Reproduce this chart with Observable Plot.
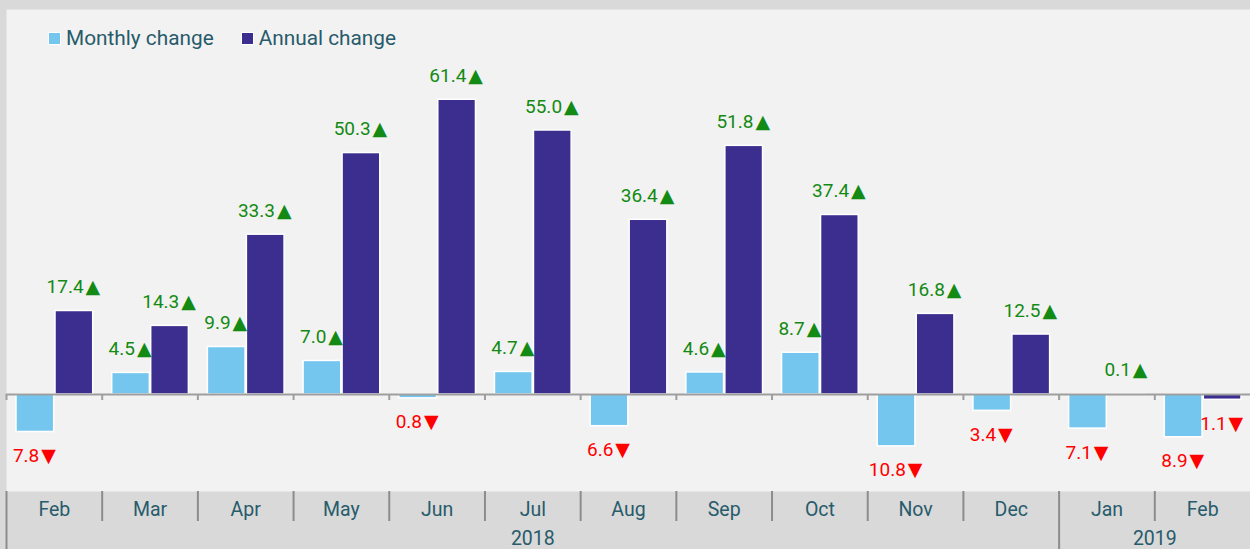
<!DOCTYPE html>
<html>
<head>
<meta charset="utf-8">
<script src="https://cdn.jsdelivr.net/npm/d3@7"></script>
<script src="https://cdn.jsdelivr.net/npm/@observablehq/plot@0.6"></script>
<style>
  html, body { margin: 0; padding: 0; background: #d9d9d9; }
  #wrap { position: relative; width: 1250px; height: 549px; overflow: hidden; font-family: Roboto, "Noto Sans", sans-serif; }
  #chart { position: absolute; left: 0; top: 0; }
  #legend { position: absolute; left: 48px; top: 26px; display: flex; align-items: center; font-size: 20.8px; color: #285b6b; }
  .sw { width: 11px; height: 11px; border: 1px solid #fff; margin-right: 5px; }
  .item { display: flex; align-items: center; margin-right: 27px; }
</style>
</head>
<body>
<div id="wrap">
  <div id="chart"></div>
  <div id="legend"></div>
</div>
<script>
// ---- data ----
const keys = ["2018-02","2018-03","2018-04","2018-05","2018-06","2018-07","2018-08","2018-09","2018-10","2018-11","2018-12","2019-01","2019-02"];
const monthLabels = ["Feb","Mar","Apr","May","Jun","Jul","Aug","Sep","Oct","Nov","Dec","Jan","Feb"];
const monthly = [-7.8, 4.5, 9.9, 7.0, -0.8, 4.7, -6.6, 4.6, 8.7, -10.8, -3.4, -7.1, -8.9];
const annual = [17.4, 14.3, 33.3, 50.3, 61.4, 55.0, 36.4, 51.8, 37.4, 16.8, 12.5, 0.1, -1.1];
const years = ["2018", "2019"];
const yearStarts = ["2018-02", "2019-01"];
const yearCenters = ["2018-07", "2019-02"];
const seriesNames = ["Monthly change", "Annual change"];
const seriesColors = ["#74c6ef", "#3b2e8e"];

// ---- layout ----
const W = 1250, H = 549;
const mL = 6, mR = 0, mT = 9, mB = 58;
const bw = (W - mL - mR) / keys.length;
const half = bw / 2;

const rows = keys.map((k, i) => ({key: k, label: monthLabels[i], monthly: monthly[i], annual: annual[i]}));

const up = "#138a13", down = "#ff0000";
const lblFont = 19;
const lblFamily = "Roboto, 'DejaVu Sans', sans-serif";
const axisColor = "#285b6b";
const gap = "\u200A";

// y domain chosen so that 0 sits at the reference's axis line
const yDomain = [-20.2, 80.2];
const yPerPx = (yDomain[1] - yDomain[0]) / (H - mT - mB);
const yBandTop = yDomain[0];
const yMonthSepEnd = yDomain[0] - 30 * yPerPx;
const yBandBottom = yDomain[0] - mB * yPerPx;
const yYearText = yDomain[0] - 47 * yPerPx;
const yTickEnd = -6 * yPerPx;

const plot = Plot.plot({
  width: W, height: H,
  marginLeft: mL, marginRight: mR, marginTop: mT, marginBottom: mB,
  style: {background: "transparent", fontFamily: "Roboto, 'Noto Sans', sans-serif"},
  x: {domain: keys, padding: 0, round: false, axis: null},
  y: {domain: yDomain, axis: null},
  marks: [
    Plot.frame({fill: "#f2f2f2", stroke: null}),
    Plot.barY(rows, {x: "key", y: "monthly", fill: seriesColors[0], stroke: "#fff", strokeWidth: 1.5, insetLeft: 10, insetRight: 48}),
    Plot.barY(rows, {x: "key", y: "annual", fill: seriesColors[1], stroke: "#fff", strokeWidth: 1.5, insetLeft: 49, insetRight: 9}),
    Plot.ruleY([0], {stroke: "#9e9e9e", strokeWidth: 2}),
    Plot.ruleX(keys, {x: d => d, y1: 0, y2: yTickEnd, dx: -half, stroke: "#9e9e9e", strokeWidth: 2}),
    // value labels
    Plot.text(rows.filter(d => d.monthly >= 0), {x: "key", y: "monthly", text: d => d.monthly.toFixed(1) + gap + "▲", dx: -20, dy: -24, fill: up, fontSize: lblFont, fontFamily: lblFamily}),
    Plot.text(rows.filter(d => d.monthly < 0), {x: "key", y: "monthly", text: d => Math.abs(d.monthly).toFixed(1) + gap + "▼", dx: -20, dy: 24, fill: down, fontSize: lblFont, fontFamily: lblFamily}),
    Plot.text(rows.filter(d => d.annual >= 0), {x: "key", y: "annual", text: d => d.annual.toFixed(1) + gap + "▲", dx: 19, dy: -24, fill: up, fontSize: lblFont, fontFamily: lblFamily}),
    Plot.text(rows.filter(d => d.annual < 0), {x: "key", y: "annual", text: d => Math.abs(d.annual).toFixed(1) + gap + "▼", dx: 19, dy: 24, fill: down, fontSize: lblFont, fontFamily: lblFamily}),
    // bottom band: separators
    Plot.ruleX(keys.filter(k => !yearStarts.includes(k)), {x: d => d, y1: yBandTop, y2: yMonthSepEnd, dx: -half, stroke: "#8c8c8c", strokeWidth: 2}),
    Plot.ruleX(yearStarts, {x: d => d, y1: yBandTop, y2: yBandBottom, dx: -half, stroke: "#8c8c8c", strokeWidth: 2}),
    // month labels
    Plot.text(rows, {x: "key", y: yBandTop, text: "label", dy: 18, fill: axisColor, fontSize: 19.5}),
    // year labels
    Plot.text([years[0]], {x: () => yearCenters[0], y: yYearText, text: d => d, fill: axisColor, fontSize: 19.5}),
    Plot.text([years[1]], {x: () => yearCenters[1], y: yYearText, text: d => d, dx: -half, fill: axisColor, fontSize: 19.5})
  ]
});
document.getElementById("chart").appendChild(plot);

// legend
const legend = document.getElementById("legend");
seriesNames.forEach((name, i) => {
  const it = document.createElement("div");
  it.className = "item";
  const sw = document.createElement("div");
  sw.className = "sw";
  sw.style.background = seriesColors[i];
  const tx = document.createElement("span");
  tx.textContent = name;
  it.appendChild(sw); it.appendChild(tx);
  legend.appendChild(it);
});
</script>
</body>
</html>
